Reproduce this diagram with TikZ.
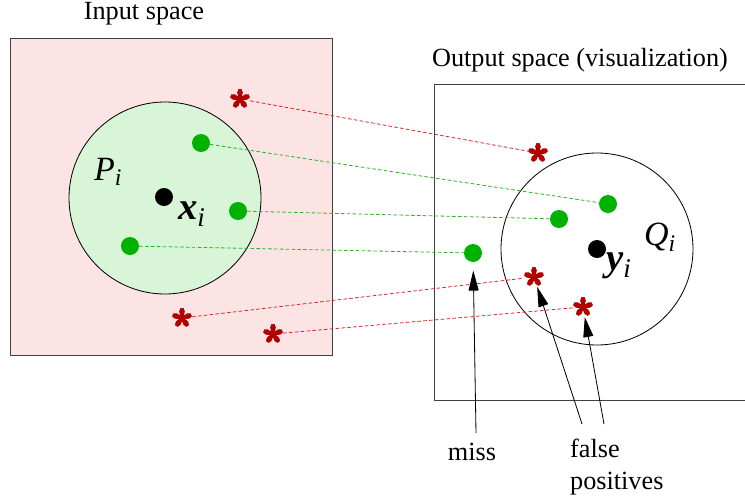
\documentclass[tikz,border=0pt]{standalone}
\usepackage{fontspec}
\setmainfont{Liberation Serif}
\usepackage{tikz}
\usetikzlibrary{arrows.meta,calc}
\definecolor{inpink}   {RGB}{253,228,228}
\definecolor{ingreen}  {RGB}{216,245,216}
\definecolor{dotgreen} {RGB}{  0,178,  0}
\definecolor{stardark} {RGB}{176,  0,  0}
\definecolor{linkred}  {RGB}{222, 40, 40}
\definecolor{linkgreen}{RGB}{ 40,180, 40}

\begin{document}
\begin{tikzpicture}[x=0.03cm,y=-0.03cm,
  every node/.style={font=\fontsize{22.4}{27}\selectfont},
  region/.style={draw=black!75,line width=0.8pt},
  ball/.style={circle,draw=black,line width=0.7pt,minimum size=5.76cm,inner sep=0pt},
  inlier/.style={circle,fill=dotgreen,inner sep=0pt,minimum size=0.54cm},
  centre/.style={circle,fill=black,inner sep=0pt,minimum size=0.54cm},
  outlier/.style={circle,inner sep=0pt,minimum size=0.6cm},
  glink/.style={draw=linkgreen,dash pattern=on 3pt off 2pt,line width=0.7pt},
  rlink/.style={draw=linkred,dash pattern=on 3pt off 2pt,line width=0.7pt},
  pointer/.style={-{Triangle[length=0.6cm,width=0.3cm]},line width=0.7pt},
  sym/.style={font=\fontsize{29}{32}\selectfont},
  vec/.style={font=\fontsize{33}{36}\selectfont},
]
\useasboundingbox (0,0) rectangle (745,498);

%% Input space
\fill[inpink] (10,38) rectangle (332,355);
\draw[region] (10,38) rectangle (332,355);
\node (inlabel) at (144,14) {Input space};
\node[ball,fill=ingreen] (pball) at (165,198) {};
\node[sym] (pname) at (108,172) {\textit{P}\textsubscript{\textit{i}}};
\node[centre] (xi) at (164,197) {};
\node[vec,anchor=base west] (xname) at (174,219) {\textbf{\textit{x}}\textsubscript{\textit{i}}};

\node[inlier] (gin1) at (201,143) {};
\node[inlier] (gin2) at (238,211) {};
\node[inlier] (gin3) at (130,246) {};
\node[outlier] (rin1) at (240,99) {};
\node[outlier] (rin2) at (182,318) {};
\node[outlier] (rin3) at (273,334) {};

%% Output space
\draw[region] (746,84) -- (434,84) -- (434,400) -- (746,400);
\node (outlabel) at (580,60) {Output space (visualization)};
\node[ball] (qball) at (597,249) {};
\node[sym] (qname) at (660,237) {\textit{Q}\textsubscript{\textit{i}}};
\node[centre] (yi) at (597,249) {};
\node[vec,anchor=base west] (yname) at (602,270) {\textbf{\textit{y}}\textsubscript{\textit{i}}};

\node[inlier] (gout1) at (608,204) {};
\node[inlier] (gout2) at (559,219) {};
\node[inlier] (gout3) at (473,253) {};
\node[outlier] (rout1) at (538,153) {};
\node[outlier] (rout2) at (534,277) {};
\node[outlier] (rout3) at (583,307) {};

%% asterisks
\foreach \s in {rin1,rin2,rin3,rout1,rout2,rout3}{
  \fill[stardark] (\s.center) circle[radius=0.075cm];
  \foreach \a in {18,90,162,234,306}
    \fill[stardark] ($(\s.center)+(\a-90:0.04cm)$)
      -- ($(\s.center)+(\a:0.2cm)+(\a-90:0.085cm)$)
      -- ($(\s.center)+(\a:0.26cm)+(\a-45:0.06cm)$)
      -- ($(\s.center)+(\a:0.29cm)$)
      -- ($(\s.center)+(\a:0.26cm)+(\a+45:0.06cm)$)
      -- ($(\s.center)+(\a:0.2cm)+(\a+90:0.085cm)$)
      -- ($(\s.center)+(\a+90:0.04cm)$) -- cycle;
}

%% Links
\draw[rlink] (rin1) -- (rout1);
\draw[glink] (gin1) -- (gout1);
\draw[glink] (gin2) -- (gout2);
\draw[glink] (gin3) -- (gout3);
\draw[rlink] (rin2) -- (rout2);
\draw[rlink] (rin3) -- (rout3);

%% Annotations
\node (missname) at (472,452) {miss};
\node[anchor=west,align=left] (fpname) at (566,467) {false\\positives};
\coordinate (misstail) at (476,433);
\coordinate (fptail1) at (582,424);
\coordinate (fptail2) at (604,424);
\draw[pointer,shorten >=0.25cm] (misstail) -- (gout3);
\draw[pointer] (fptail1) -- (rout2);
\draw[pointer] (fptail2) -- (rout3);
\end{tikzpicture}
\end{document}
